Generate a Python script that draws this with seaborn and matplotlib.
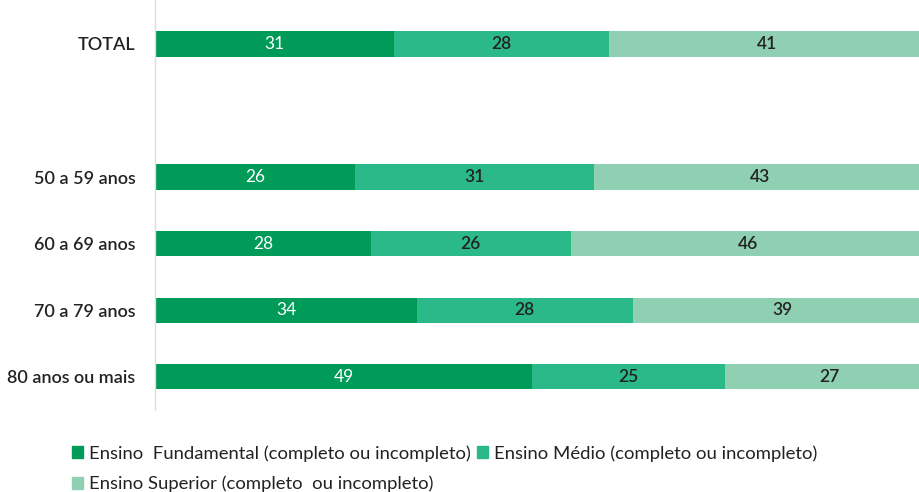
import numpy as np
import pandas as pd
import seaborn as sns
import matplotlib.pyplot as plt
from matplotlib.patches import Patch

# data (percent)
categories = ['TOTAL', '50 a 59 anos', '60 a 69 anos', '70 a 79 anos', '80 anos ou mais']
fundamental = [31, 26, 28, 34, 49]
medio = [28, 31, 26, 28, 25]
superior = [41, 43, 46, 39, 27]

series_names = ['Ensino  Fundamental (completo ou incompleto)',
                'Ensino Médio (completo ou incompleto)',
                'Ensino Superior (completo  ou incompleto)']
colors = ['#009b58', '#2bb98a', '#8fd0b2']

# blank slot between TOTAL and the age groups
order = ['TOTAL', ''] + categories[1:]

df = pd.DataFrame({'cat': categories, 'fund': fundamental, 'med': medio, 'sup': superior})
df['c1'] = df['fund']
df['c2'] = df['fund'] + df['med']
df['c3'] = df['c2'] + df['sup']

sns.set_style('white')
plt.rcParams['font.family'] = ['Lato', 'DejaVu Sans']

fig = plt.figure(figsize=(9.19, 4.92), dpi=100)
ax = fig.add_axes([0.1687, 0.1667, 0.8313, 0.8333])

# stacked bars: draw cumulative widths back to front
for col, color in zip(['c3', 'c2', 'c1'], colors[::-1]):
    sns.barplot(data=df, x=col, y='cat', order=order, orient='h', color=color,
                width=0.38, saturation=1, ax=ax, errorbar=None, linewidth=0)

# value labels centred in each segment
for _, row in df.iterrows():
    y = order.index(row['cat'])
    ax.text(row['fund'] / 2, y, str(row['fund']), ha='center', va='center',
            color='white', fontsize=12.5)
    ax.text(row['fund'] + row['med'] / 2, y, str(row['med']), ha='center', va='center',
            color='#222222', fontsize=12.5, fontweight='semibold')
    ax.text(row['c2'] + row['sup'] / 2, y, str(row['sup']), ha='center', va='center',
            color='#222222', fontsize=12.5, fontweight='semibold')

ax.set_xlim(0, 99.2)
ax.set_ylim(5.5, -0.66)
ax.set_xlabel('')
ax.set_ylabel('')
ax.set_xticks([])
ax.tick_params(axis='y', length=0, pad=14, labelsize=13, labelcolor='#222222')
for lbl in ax.get_yticklabels():
    lbl.set_fontweight('semibold')
for s in ['top', 'right', 'bottom']:
    ax.spines[s].set_visible(False)
ax.spines['left'].set_color('#dddddd')
ax.spines['left'].set_linewidth(1)

handles = [Patch(color=colors[0], label=series_names[0]),
           Patch(color=colors[2], label=series_names[2]),
           Patch(color=colors[1], label=series_names[1])]
fig.legend(handles=handles, ncol=2, loc='upper left', bbox_to_anchor=(0.078, 0.095),
           frameon=False, fontsize=13.3, handlelength=0.6, handleheight=0.6,
           handletextpad=0.35, columnspacing=0.3, labelspacing=0.75, borderaxespad=0,
           borderpad=0, labelcolor='#222222')

fig.savefig('out.png', dpi=100)
